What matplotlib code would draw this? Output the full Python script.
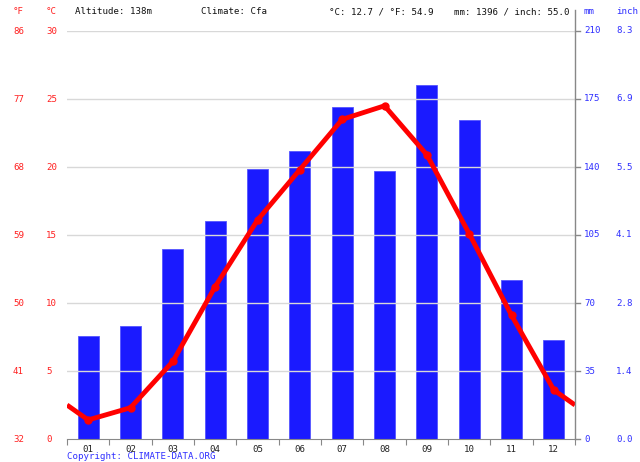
import matplotlib.pyplot as plt
import matplotlib.transforms as mtransforms
from matplotlib.lines import Line2D

# monthly climate values
months = ['01', '02', '03', '04', '05', '06', '07', '08', '09', '10', '11', '12']
temp_c = [1.4, 2.3, 5.7, 11.2, 16.1, 19.8, 23.5, 24.5, 20.9, 15.1, 9.1, 3.6]
precip_mm = [53, 58, 98, 112, 139, 148, 171, 138, 182, 164, 82, 51]

c_ticks = [0, 5, 10, 15, 20, 25, 30]
f_labels = ['32', '41', '50', '59', '68', '77', '86']
mm_ticks = [0, 35, 70, 105, 140, 175, 210]
inch_labels = ['0.0', '1.4', '2.8', '4.1', '5.5', '6.9', '8.3']

mono = 'DejaVu Sans Mono'
fs = 6.6
red = '#ff2020'
blue = '#3030ff'
W, H = 640, 462

fig = plt.figure(figsize=(6.4, 4.62), dpi=100)
ax = fig.add_axes([67 / W, 23 / H, 508 / W, 408 / H])
ax2 = ax.twinx()

x = list(range(1, 13))

# precipitation bars
ax.bar(x, precip_mm, width=0.5, color='#1a1aff', edgecolor='#5555ff', linewidth=0.6, zorder=2)
ax.set_ylim(0, 210)
ax.set_xlim(0.5, 12.5)

# grid lines (every 5 C)
for c in c_ticks[1:]:
    ax2.axhline(c, color='#d8d8d8', linewidth=1, zorder=0)

# temperature line, carried on to both edges between Dec and Jan
edge = (temp_c[0] + temp_c[-1]) / 2
tx = [0.5] + x + [12.5]
ty = [edge] + temp_c + [edge]
ax2.plot(tx, ty, color='#ff0000', linewidth=3.5, solid_capstyle='butt', zorder=5)
ax2.plot(x, temp_c, 'o', color='#ff0000', markersize=5, zorder=6)
ax2.set_ylim(0, 30)

for a in (ax, ax2):
    a.set_yticks([])
    for s in ('top', 'left', 'right'):
        a.spines[s].set_visible(False)
    a.spines['bottom'].set_color('#888888')
ax2.spines['bottom'].set_visible(False)

ax.set_xticks([i + 0.5 for i in range(0, 13)])
ax.set_xticklabels([])
ax.tick_params(axis='x', length=4, color='#888888', direction='out')
ax2.tick_params(axis='x', length=0)

# right axis line and tick marks
fig.add_artist(Line2D([575 / W, 575 / W], [23 / H, 1 - 10 / H], color='#888888', linewidth=1))
tr_r = mtransforms.blended_transform_factory(fig.transFigure, ax.transData)
for m in mm_ticks:
    ax.add_line(Line2D([575 / W, 580 / W], [m, m], transform=tr_r, color='#888888',
                       linewidth=1, clip_on=False))

# tick label columns
tr_l = mtransforms.blended_transform_factory(fig.transFigure, ax2.transData)
for c, f in zip(c_ticks, f_labels):
    ax2.text(13 / W, c, f, transform=tr_l, color=red, fontsize=fs, family=mono, va='center', ha='left')
    ax2.text(46 / W, c, str(c), transform=tr_l, color=red, fontsize=fs, family=mono, va='center', ha='left')
for m, inch in zip(mm_ticks, inch_labels):
    ax.text(584 / W, m, str(m), transform=tr_r, color=blue, fontsize=fs, family=mono, va='center', ha='left')
    ax.text(616 / W, m, inch, transform=tr_r, color=blue, fontsize=fs, family=mono, va='center', ha='left')

# month labels
tr_b = mtransforms.blended_transform_factory(ax.transData, fig.transFigure)
for i, mo in zip(x, months):
    ax.text(i, 1 - 449 / H, mo, transform=tr_b, color='#222222', fontsize=fs, family=mono,
            ha='center', va='center')

# header
hy = 1 - 12 / H
fig.text(13 / W, hy, '°F', color=red, fontsize=fs, family=mono, va='center')
fig.text(46 / W, hy, '°C', color=red, fontsize=fs, family=mono, va='center')
fig.text(75 / W, hy, 'Altitude: 138m', color='#111111', fontsize=fs, family=mono, va='center')
fig.text(201 / W, hy, 'Climate: Cfa', color='#111111', fontsize=fs, family=mono, va='center')
fig.text(329 / W, hy, '°C: 12.7 / °F: 54.9', color='#111111', fontsize=fs, family=mono, va='center')
fig.text(454 / W, hy, 'mm: 1396 / inch: 55.0', color='#111111', fontsize=fs, family=mono, va='center')
fig.text(584 / W, hy, 'mm', color=blue, fontsize=fs, family=mono, va='center')
fig.text(616 / W, hy, 'inch', color=blue, fontsize=fs, family=mono, va='center')

fig.text(67 / W, 1 / H, 'Copyright: CLIMATE-DATA.ORG', color=blue, fontsize=fs,
         family=mono, va='bottom')

fig.savefig('out.png', dpi=100)
